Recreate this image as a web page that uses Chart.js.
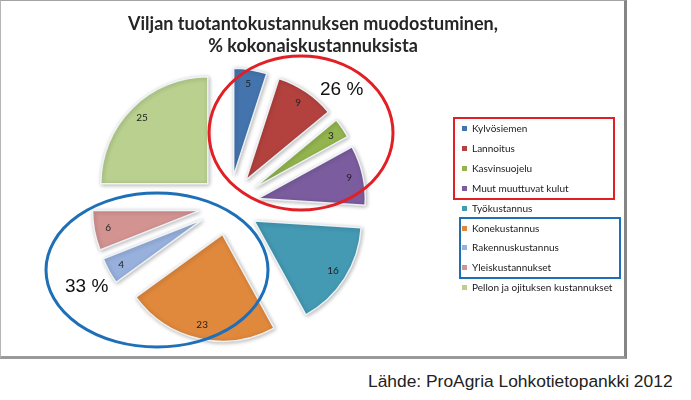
<!DOCTYPE html>
<html>
<head>
<meta charset="utf-8">
<script src="https://cdn.jsdelivr.net/npm/chart.js@4"></script>
<style>
  body { margin: 0; background: #fff; font-family: 'Liberation Sans', Arial, sans-serif; }
  #frame {
    position: absolute; left: 0; top: 0; width: 623px; height: 355px;
    border-top: 1px solid #a3a3a3; border-left: 1px solid #b5b5b5;
    border-right: 3px solid #858585; border-bottom: 3px solid #9a9a9a;
  }
  #title {
    position: absolute; left: 0; top: 12px; width: 626px; text-align: center;
    font: bold 18px Lato, sans-serif; line-height: 22px; color: #262626;
  }
  .legend-item {
    position: absolute; left: 462px; height: 20px; line-height: 20px;
    font: 10px Lato, sans-serif; color: #1a1a1a; white-space: nowrap;
  }
  .legend-item span {
    display: inline-block; width: 5px; height: 5px; margin-right: 5px; vertical-align: 1px;
  }
  .group-box { position: absolute; border: 2px solid; }
  #source {
    position: absolute; left: 368px; top: 371px; font-size: 17.4px; color: #222;
  }
</style>
</head>
<body>
<div id="frame"><canvas id="chart" width="623" height="355"></canvas></div>
<div id="title">Viljan tuotantokustannuksen muodostuminen,<br>% kokonaiskustannuksista</div>
<div id="legend"></div>
<div id="source">Lähde: ProAgria Lohkotietopankki 2012</div>
<script>
// 데이터
const labels = [
  'Kylvösiemen', 'Lannoitus', 'Kasvinsuojelu', 'Muut muuttuvat kulut', 'Työkustannus',
  'Konekustannus', 'Rakennuskustannus', 'Yleiskustannukset', 'Pellon ja ojituksen kustannukset',
];
const values = [5, 9, 3, 9, 16, 23, 4, 6, 25];
const colors = ['#4474ae', '#b3423f', '#93b44e', '#7b5c9e', '#4499b3', '#e0883c', '#97b0dc', '#d39391', '#b9d08f'];

// 주석 그룹 (원/상자)
const redGroup = [0, 1, 2, 3];
const blueGroup = [5, 6, 7];
const redNote = '26 %';
const blueNote = '33 %';

const EXPLODE = 30; // 조각 분리 거리
const RED = '#e11f24';
const BLUE = '#1d6fb7';

// 범례
const legendEl = document.getElementById('legend');
const rowY = function (i) { return 118 + i * 19.9; };
labels.forEach(function (label, i) {
  const item = document.createElement('div');
  item.className = 'legend-item';
  item.style.top = rowY(i) + 4 + 'px';
  item.innerHTML = '<span style="background:' + colors[i] + '"></span>' + label;
  legendEl.appendChild(item);
});
function addBox(group, left, width, color) {
  const box = document.createElement('div');
  box.className = 'group-box';
  box.style.borderColor = color;
  box.style.left = left + 'px';
  box.style.width = width + 'px';
  box.style.top = rowY(group[0]) - 1 + 'px';
  box.style.height = rowY(group[group.length - 1]) - rowY(group[0]) + 19 + 'px';
  legendEl.appendChild(box);
}
addBox(redGroup, 453, 158, RED);
addBox(blueGroup, 459, 158, BLUE);

// 분리된 조각 + 라벨 + 주석 그리기
const explodePlugin = {
  id: 'explode',
  beforeDatasetDraw: function (chart, args) {
    const ctx = chart.ctx;
    args.meta.data.forEach(function (arc) {
      const mid = (arc.startAngle + arc.endAngle) / 2;
      ctx.save();
      ctx.translate(Math.cos(mid) * EXPLODE, Math.sin(mid) * EXPLODE);
      ctx.shadowColor = 'rgba(0,0,0,0.28)';
      ctx.shadowBlur = 4;
      ctx.shadowOffsetX = 1;
      ctx.shadowOffsetY = 1;
      arc.draw(ctx);
      ctx.restore();
    });
    return false;
  },
  afterDatasetsDraw: function (chart) {
    const ctx = chart.ctx;
    const arcs = chart.getDatasetMeta(0).data;
    ctx.save();
    ctx.font = '10px Lato, sans-serif';
    ctx.fillStyle = '#222';
    ctx.textAlign = 'center';
    ctx.textBaseline = 'middle';
    arcs.forEach(function (arc, i) {
      const mid = (arc.startAngle + arc.endAngle) / 2;
      const d = EXPLODE + arc.outerRadius * 0.87;
      ctx.fillText(values[i], arc.x + Math.cos(mid) * d, arc.y + Math.sin(mid) * d);
    });

    const cx = arcs[0].x;
    const cy = arcs[0].y;
    ctx.lineWidth = 3;
    ctx.strokeStyle = RED;
    ctx.beginPath();
    ctx.ellipse(cx + 72, cy - 72, 92, 77, 0, 0, Math.PI * 2);
    ctx.stroke();
    ctx.strokeStyle = BLUE;
    ctx.beginPath();
    ctx.ellipse(cx - 72, cy + 65, 111, 77, 0, 0, Math.PI * 2);
    ctx.stroke();

    ctx.font = '19px "Liberation Sans", Arial, sans-serif';
    ctx.fillStyle = '#111';
    ctx.textAlign = 'left';
    ctx.fillText(redNote, cx + 91, cy - 115);
    ctx.fillText(blueNote, cx - 164, cy + 82);
    ctx.restore();
  },
};

new Chart(document.getElementById('chart'), {
  type: 'pie',
  data: {
    labels: labels,
    datasets: [
      {
        data: values,
        backgroundColor: colors,
        borderColor: 'rgba(240,245,250,0.95)',
        borderWidth: 1.5,
        radius: 107,
      },
    ],
  },
  options: {
    responsive: false,
    animation: false,
    events: [],
    layout: { padding: { left: 0, right: 167, top: 53, bottom: 0 } },
    plugins: {
      legend: { display: false },
      tooltip: { enabled: false },
    },
  },
  plugins: [explodePlugin],
});
</script>
</body>
</html>
